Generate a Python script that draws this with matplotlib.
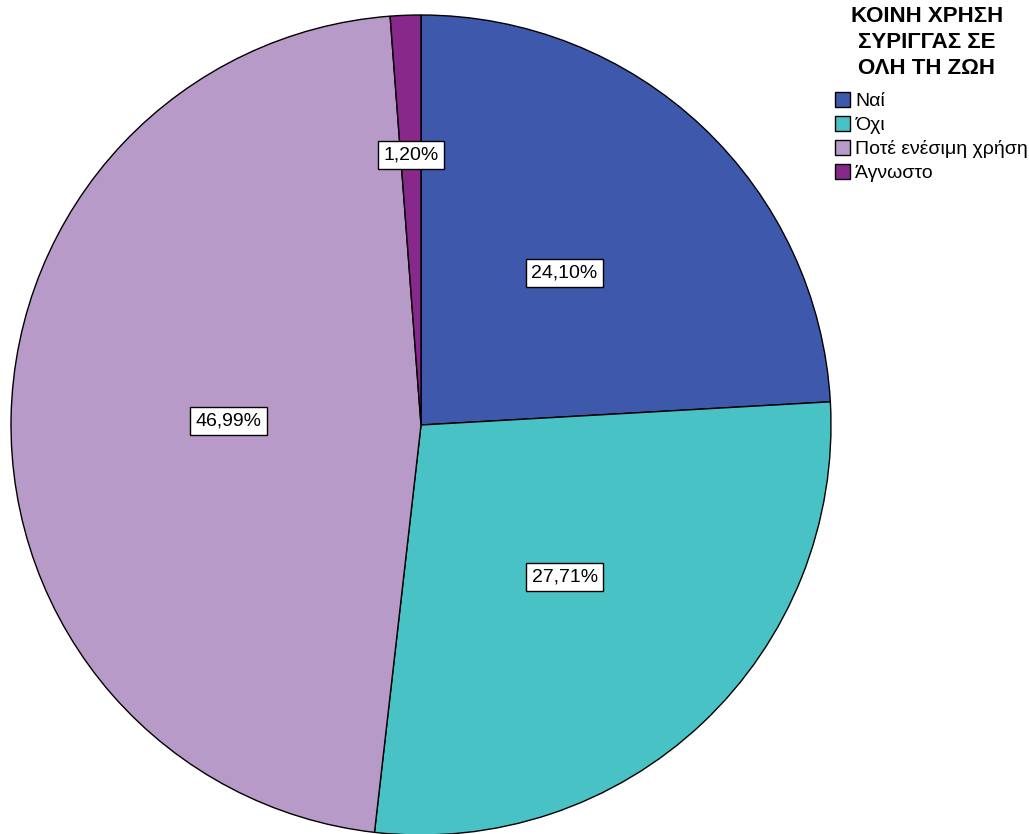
import matplotlib
matplotlib.use("Agg")
import matplotlib.pyplot as plt
import numpy as np
from matplotlib.patches import Patch

plt.rcParams['font.family'] = ['Liberation Sans', 'DejaVu Sans']

categories = ["Ναί", "Όχι", "Ποτέ ενέσιμη χρήση", "Άγνωστο"]
values = [24.10, 27.71, 46.99, 1.20]
colors = ["#3E58AC", "#48C2C5", "#B89AC9", "#87288A"]
label_dist = [0.51, 0.51, 0.47, 0.66]
legend_title = "ΚΟΙΝΗ ΧΡΗΣΗ\nΣΥΡΙΓΓΑΣ ΣΕ\nΟΛΗ ΤΗ ΖΩΗ"

W, H = 1029, 834
fig = plt.figure(figsize=(W / 100, H / 100), dpi=100)
cx, cy, r = 421, 425, 410
ax = fig.add_axes([(cx - r) / W, (H - cy - r) / H, 2 * r / W, 2 * r / H])
wedges, _ = ax.pie(values, colors=colors, startangle=90, counterclock=False,
                   radius=1, wedgeprops=dict(edgecolor="black", linewidth=1.0))
ax.set_xlim(-1, 1)
ax.set_ylim(-1, 1)
ax.set_aspect('equal')
ax.axis('off')

for w, v, d in zip(wedges, values, label_dist):
    ang = np.deg2rad((w.theta1 + w.theta2) / 2)
    ax.text(d * np.cos(ang), d * np.sin(ang), f"{v:.2f}%".replace('.', ','),
            ha='center', va='center', fontsize=14,
            bbox=dict(boxstyle='square,pad=0.28', facecolor='white', edgecolor='black', linewidth=1.0))

fig.text(927 / W, 1 - 6 / H, legend_title, ha='center', va='top',
         fontsize=16, fontweight='bold', linespacing=1.32, multialignment='center')

handles = [Patch(facecolor=c, edgecolor='black', linewidth=1.0) for c in colors]
leg = fig.legend(handles, categories, loc='upper left',
                 bbox_to_anchor=(831 / W, 1 - 88 / H), frameon=False,
                 fontsize=14,
                 handlelength=0.8, handleheight=0.8, handletextpad=0.25,
                 labelspacing=0.3, borderaxespad=0, borderpad=0.2)

fig.savefig("out.png", dpi=100)
